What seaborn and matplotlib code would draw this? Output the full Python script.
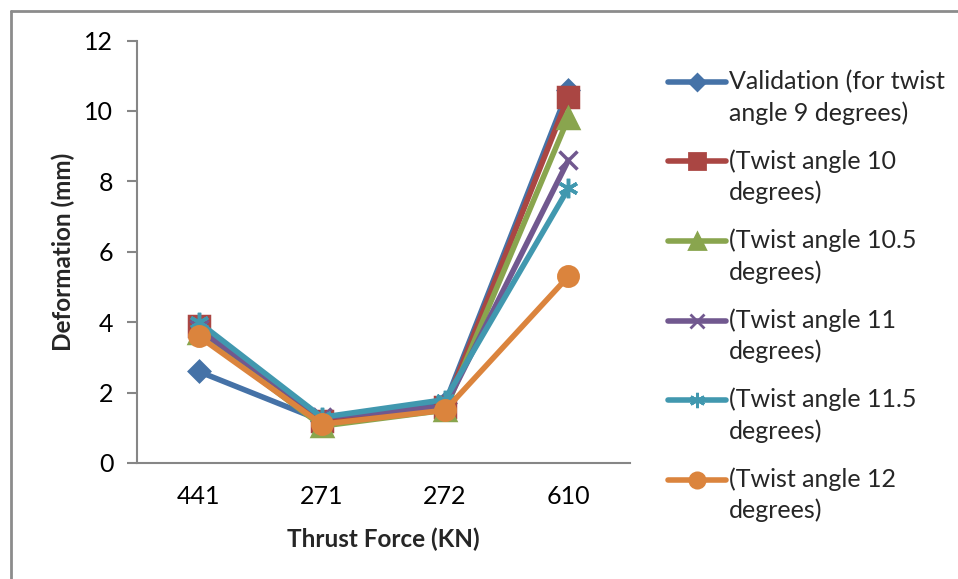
import matplotlib
matplotlib.use("Agg")
import matplotlib.pyplot as plt
import seaborn as sns
import pandas as pd
from matplotlib.lines import Line2D
from matplotlib.legend_handler import HandlerLine2D
from matplotlib.transforms import Affine2D

# data
forces = ["441", "271", "272", "610"]
series_names = [
    "Validation (for twist\nangle 9 degrees)",
    "(Twist angle 10\ndegrees)",
    "(Twist angle 10.5\ndegrees)",
    "(Twist angle 11\ndegrees)",
    "(Twist angle 11.5\ndegrees)",
    "(Twist angle 12\ndegrees)",
]
validation_9 = [2.6, 1.2, 1.7, 10.6]
twist_10 = [3.9, 1.2, 1.6, 10.4]
twist_10_5 = [3.7, 1.05, 1.5, 9.8]
twist_11 = [3.8, 1.3, 1.6, 8.6]
twist_11_5 = [4.0, 1.3, 1.8, 7.8]
twist_12 = [3.6, 1.1, 1.5, 5.3]

colors = ["#4572A7", "#AA4643", "#89A54E", "#71588F", "#4198AF", "#DB843D"]
# seaborn won't mix filled and line markers, so they are applied after plotting
markers = ["D", "s", "^", "x", (6, 2, 0), "o"]
marker_sizes = [10, 14, 14, 13, 14, 14]
legend_marker_sizes = [8, 11, 11, 10, 11, 11]

all_values = [validation_9, twist_10, twist_10_5, twist_11, twist_11_5, twist_12]
records = []
for name, vals in zip(series_names, all_values):
    for f, v in zip(forces, vals):
        records.append({"force": f, "deformation": v, "series": name})
df = pd.DataFrame.from_records(records)


class FirstLineHandler(HandlerLine2D):
    """Puts the legend line next to the first text line instead of the middle."""

    def create_artists(self, legend, orig_handle, xdescent, ydescent, width, height,
                       fontsize, trans):
        trans = trans + Affine2D().translate(0, 16)
        return super().create_artists(legend, orig_handle, xdescent, ydescent, width,
                                      height, fontsize, trans)


sns.set_style("white")
plt.rcParams["font.family"] = ["Lato", "DejaVu Sans"]

fig = plt.figure(figsize=(9.58, 5.79), dpi=100)
ax = fig.add_axes([137 / 958, 116 / 579, 493 / 958, 422.5 / 579])

sns.lineplot(
    data=df,
    x="force",
    y="deformation",
    hue="series",
    palette=colors,
    sort=False,
    linewidth=4,
    ax=ax,
    legend=False,
)

for line, c, m, ms in zip(ax.lines, colors, markers, marker_sizes):
    line.set_marker(m)
    line.set_markeredgecolor(c)
    line.set_markerfacecolor(c)
    line.set_markersize(ms)
    line.set_markeredgewidth(2.5)
    line.set_solid_capstyle("round")

ax.set_xlim(-0.5, len(forces) - 0.5)
ax.set_ylim(0, 12)
ax.set_yticks(range(0, 13, 2))
ax.set_xticks(range(len(forces)))
ax.set_xticklabels(forces)

for side in ["top", "right"]:
    ax.spines[side].set_visible(False)
for side in ["left", "bottom"]:
    ax.spines[side].set_color("#868686")
    ax.spines[side].set_linewidth(1.5)

ax.tick_params(axis="y", direction="out", length=7, width=1.5, color="#868686",
               left=True, pad=10, labelsize=18, labelcolor="black")
ax.tick_params(axis="x", length=0, pad=16, labelsize=18, labelcolor="black")

ax.set_xlabel("Thrust Force (KN)", fontsize=17.5, fontweight="bold", labelpad=14)
ax.set_ylabel("Deformation (mm)", fontsize=17.5, fontweight="bold", labelpad=7)

# legend handles with smaller markers, like the original
handles = [
    Line2D([], [], color=c, linewidth=4, marker=m, markersize=ms,
           markerfacecolor=c, markeredgecolor=c, markeredgewidth=2)
    for c, m, ms in zip(colors, markers, legend_marker_sizes)
]
leg = ax.legend(
    handles,
    series_names,
    loc="upper left",
    bbox_to_anchor=(668 / 958, 1 - 70 / 579),
    bbox_transform=fig.transFigure,
    frameon=False,
    fontsize=18,
    handlelength=2.3,
    handletextpad=0.15,
    labelspacing=0.98,
    borderpad=0,
    borderaxespad=0,
    handler_map={Line2D: FirstLineHandler()},
)
for t in leg.get_texts():
    t.set_linespacing(1.4)

# outer chart border (left and top edges visible in the crop)
fig.add_artist(Line2D([11 / 958, 11 / 958], [0, 1 - 11 / 579], transform=fig.transFigure,
                      color="#8c8c8c", linewidth=2))
fig.add_artist(Line2D([11 / 958, 1], [1 - 11 / 579, 1 - 11 / 579], transform=fig.transFigure,
                      color="#8c8c8c", linewidth=2))

fig.savefig("out.png", dpi=100)
